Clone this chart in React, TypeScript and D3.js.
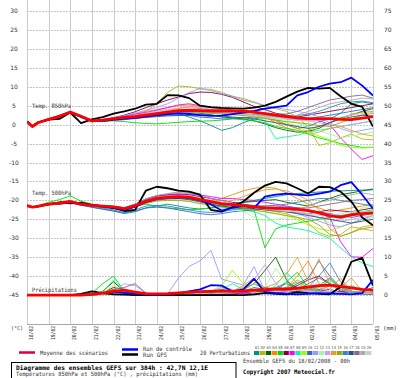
import React from "react";
import * as d3 from "d3";

const HOURS = [0,6,12,24,36,48,60,72,84,96,108,120,132,144,156,168,180,192,204,216,228,240,252,264,276,288,300,312,324,336,348,360,372,384];
const DATES = ["18/02","19/02","20/02","21/02","22/02","23/02","24/02","25/02","26/02","27/02","28/02","29/02","01/03","02/03","03/03","04/03","05/03"];
const LEFT_TICKS = [30,25,20,15,10,5,0,-5,-10,-15,-20,-25,-30,-35,-40,-45];
const RIGHT_TICKS = [75,70,65,60,55,50,45,40,35,30,25,20,15,10,5,0];
const MEMBER_LABELS = ["01","02","03","04","05","06","07","08","09","10","11","12","13","14","15","16","17","18","19","20"];
const MEMBER_COLORS = ["#009090","#b8b800","#006600","#ff8800","#00dd00","#880033","#ff00ff","#00ff99","#99ff00","#3366dd","#9999ff","#99ff99","#cc99ff","#e0a030","#99aa00","#3388bb","#225588","#886688","#aaaaaa","#cccccc"];

const T850_MEAN = [0.8,-0.5,0.5,1.4,2.2,3.3,2.2,1.0,1.2,1.6, 1.9,2.1,2.5,2.9,3.3,3.7,3.8,3.7,3.6,3.6, 3.6,3.6,3.3,2.9,2.5,2.1,1.8,1.6,1.6,1.6, 1.4,1.3,1.7,2.1];
const T850_GFS = [0.8,-0.5,0.5,1.3,1.5,3.2,0.4,1.4,2.0,2.9, 3.5,4.2,5.3,5.5,7.8,7.7,7.0,5.0,4.6,4.4, 4.3,4.2,4.5,5.0,6.0,7.4,8.7,9.7,9.5,9.7, 7.5,5.5,4.7,-0.5];
const T850_CTRL = [0.8,-0.5,0.5,1.4,2.3,3.3,2.0,1.0,1.0,1.3, 1.6,1.8,2.2,2.5,2.8,3.0,2.8,2.5,2.3,2.4, 2.8,3.2,3.6,4.2,4.6,5.0,7.7,8.6,10.0,10.8, 11.2,12.4,10.3,7.7];
const T850_MEMBERS = [
  [0.8,-0.4,0.6,1.3,2.0,3.1,2.0,0.9,1.0,1.3, 1.6,1.8,2.0,2.4,2.6,2.9,2.0,1.0,-0.2,-1.5, -0.8,0.5,1.5,2.0,1.2,0.0,-1.0,-0.5,0.8,1.5, 3.0,5.5,6.0,5.5],
  [0.8,-0.5,0.5,1.5,2.4,3.5,2.3,1.1,1.4,1.8, 2.1,2.4,3.5,5.5,8.5,10.2,10.0,9.5,9.3,8.5, 7.5,6.9,6.0,5.0,4.2,3.5,2.0,-0.5,-5.5,-4.8, -3.5,-2.5,-3.8,-4.0],
  [0.8,-0.5,0.4,1.4,2.1,3.2,2.1,0.8,0.9,1.2, 1.5,1.9,2.2,2.5,2.8,3.0,3.2,3.0,2.6,2.0, 1.8,1.5,1.0,0.2,-0.8,-1.5,-2.0,-1.8,-1.0,0.5, 1.8,2.5,3.5,4.2],
  [0.8,-0.5,0.5,1.4,2.3,3.3,2.2,1.1,1.3,1.8, 2.3,2.8,3.5,4.0,4.5,5.0,5.2,4.8,4.5,4.2, 3.8,3.5,3.0,2.0,0.5,-0.8,-2.0,-1.5,-0.5,0.5, 1.5,2.8,3.2,3.5],
  [0.8,-0.6,0.4,1.3,2.0,3.0,2.1,0.9,0.9,1.0, 0.8,0.5,0.3,0.2,0.4,0.6,0.8,0.9,1.0,1.2, 1.5,1.3,1.0,0.5,-0.5,-1.0,-1.5,-2.5,-3.5,-4.2, -5.0,-5.5,-6.0,-6.0],
  [0.8,-0.5,0.5,1.5,2.3,3.4,2.3,1.0,1.2,1.8, 2.5,3.4,4.5,5.5,6.5,7.3,8.2,8.6,8.5,8.0, 7.2,6.0,4.8,4.0,3.0,2.5,2.0,2.5,3.0,3.5, 4.0,4.5,5.0,5.5],
  [0.8,-0.4,0.6,1.5,2.3,3.3,2.2,1.0,1.2,1.7, 2.2,2.8,3.2,3.8,4.5,5.2,5.5,5.0,4.5,4.2, 3.8,3.6,3.4,3.0,2.6,2.0,1.5,1.2,1.1,0.0, -3.5,-6.5,-9.2,-8.2],
  [0.8,-0.5,0.4,1.3,2.2,3.2,2.3,1.0,1.1,1.5, 1.8,2.0,2.2,2.4,2.6,2.8,3.0,3.2,3.0,2.8, 2.8,2.5,2.2,1.0,-3.7,-3.2,-2.8,-2.0,-1.5,-1.0, -0.5,0.0,0.5,1.0],
  [0.8,-0.5,0.5,1.4,2.3,3.4,2.3,1.1,1.2,1.5, 1.8,2.0,2.4,2.7,3.0,3.3,3.5,3.6,3.6,3.8, 3.5,3.0,2.5,2.2,1.5,0.5,-0.5,-1.9,-3.0,-4.0, -5.5,-6.0,-6.2,-6.0],
  [0.8,-0.5,0.5,1.3,2.1,3.1,2.0,0.8,0.9,1.1, 1.3,1.6,2.0,2.3,2.5,2.5,2.4,2.0,1.8,1.5, 1.6,1.8,2.0,2.2,2.0,1.5,1.2,1.5,2.0,2.5, 3.0,3.5,4.0,4.5],
  [0.8,-0.5,0.5,1.4,2.2,3.3,2.2,1.0,1.3,1.8, 2.4,3.0,3.8,4.6,5.5,7.0,8.5,9.5,9.0,8.2, 7.5,6.5,5.8,5.0,4.5,4.0,3.5,3.0,2.0,0.5, -1.0,-2.0,-1.5,-1.0],
  [0.8,-0.5,0.5,1.4,2.2,3.2,2.2,1.0,1.1,1.5, 1.8,2.1,2.5,2.8,3.1,3.3,3.4,3.5,3.3,3.0, 2.8,2.5,2.2,1.8,1.5,1.2,0.5,-0.5,-1.5,-2.5, -3.5,-3.0,-2.5,-2.0],
  [0.8,-0.5,0.5,1.4,2.3,3.3,2.3,1.1,1.2,1.6, 2.0,2.5,3.0,3.6,4.0,4.4,4.6,4.5,4.4,4.0, 3.6,3.0,2.5,2.2,2.0,1.8,1.6,1.0,0.5,0.0, -0.5,0.0,0.5,1.0],
  [0.8,-0.5,0.5,1.4,2.2,3.3,2.2,1.0,1.2,1.6, 2.0,2.4,2.8,3.2,3.7,4.2,4.8,5.0,4.6,4.0, 3.5,3.0,2.5,1.8,1.0,0.0,-1.0,-2.5,-2.0,-1.0, -0.5,-1.5,-2.5,-3.0],
  [0.8,-0.5,0.5,1.3,2.1,3.2,2.1,0.9,1.0,1.3, 1.6,1.9,2.2,2.5,2.8,3.0,3.1,3.2,3.0,2.8, 2.6,2.4,2.0,1.6,1.2,0.8,0.5,0.2,-0.2,-0.5, 0.5,1.5,2.5,3.0],
  [0.8,-0.5,0.5,1.4,2.2,3.2,2.1,1.0,1.1,1.4, 1.7,2.0,2.3,2.6,2.9,3.2,3.4,3.5,3.4,3.2, 3.0,2.8,2.6,2.5,2.3,2.2,2.4,2.8,3.5,4.5, 5.5,6.0,6.2,5.8],
  [0.8,-0.5,0.5,1.4,2.2,3.2,2.1,0.9,1.0,1.3, 1.5,1.7,1.9,2.1,2.3,2.4,2.5,2.6,2.5,2.3, 2.0,1.8,1.5,1.0,0.5,0.0,-0.5,-1.0,-0.5,0.5, 1.5,2.0,2.5,2.2],
  [0.8,-0.5,0.5,1.4,2.2,3.3,2.2,1.0,1.2,1.6, 2.0,2.3,2.7,3.0,3.4,3.8,4.0,4.2,4.0,3.8, 3.6,3.4,3.2,3.0,2.8,2.8,3.5,4.5,5.5,6.5, 7.0,7.5,7.8,7.0],
  [0.8,-0.5,0.5,1.4,2.2,3.2,2.2,1.0,1.1,1.5, 1.8,2.1,2.4,2.7,3.0,3.2,3.3,3.3,3.2,3.0, 2.9,2.8,2.6,2.4,2.2,2.0,2.5,3.5,4.5,5.5, 6.0,6.5,7.0,6.8],
  [0.8,-0.5,0.5,1.4,2.2,3.2,2.2,1.0,1.2,1.5, 1.8,2.1,2.4,2.7,3.0,3.3,3.5,3.6,3.5,3.3, 3.0,2.7,2.4,2.1,1.8,1.5,1.2,1.0,1.2,1.5, 2.0,2.5,3.0,3.2],
];

const T500_MEAN = [-21.4,-21.8,-21.6,-21.0,-20.7,-20.3,-21.0,-21.3,-21.5,-21.7, -22.2,-21.4,-20.2,-19.5,-19.2,-19.0,-19.2,-19.8,-20.3,-20.9, -21.1,-21.4,-21.7,-22.0,-22.1,-22.2,-22.4,-22.7,-23.3,-24.0, -24.5,-23.8,-23.5,-23.3];
const T500_GFS = [-21.4,-21.8,-21.6,-21.0,-20.5,-20.8,-20.6,-21.2,-21.6,-22.0, -22.8,-22.5,-17.4,-16.4,-16.8,-17.4,-17.7,-18.5,-22.5,-23.0, -21.8,-20.3,-18.0,-16.1,-15.1,-15.5,-16.8,-18.2,-16.4,-16.5, -17.7,-20.3,-24.5,-26.6];
const T500_CTRL = [-21.4,-21.8,-21.6,-21.0,-20.8,-20.5,-21.0,-21.3,-21.6,-21.9, -22.5,-21.6,-20.4,-19.6,-19.3,-19.2,-19.4,-20.0,-21.0,-22.7, -22.0,-21.4,-22.0,-19.0,-18.5,-18.2,-18.5,-18.7,-18.2,-17.7, -16.0,-15.2,-18.5,-22.2];
const T500_MEMBERS = [
  [-21.4,-21.8,-21.5,-21.1,-21.0,-20.6,-21.2,-21.8,-22.3,-22.8, -23.5,-23.0,-22.0,-21.5,-21.0,-21.5,-22.0,-22.3,-22.0,-21.5, -21.0,-20.5,-20.0,-19.5,-19.0,-18.5,-18.2,-18.0,-17.8,-17.6, -17.5,-17.4,-17.3,-17.2],
  [-21.4,-21.8,-21.6,-21.0,-20.6,-20.2,-21.0,-21.4,-21.6,-21.8, -22.0,-21.0,-19.8,-18.8,-18.2,-17.8,-17.9,-18.5,-19.5,-20.5, -21.0,-21.5,-22.0,-22.5,-23.0,-23.5,-24.5,-26.0,-28.5,-29.5, -29.0,-27.0,-27.5,-28.0],
  [-21.4,-21.8,-21.6,-21.1,-20.9,-20.5,-21.1,-21.4,-21.6,-21.9, -22.3,-21.3,-20.0,-19.3,-19.0,-18.8,-19.0,-19.8,-20.5,-21.0, -20.8,-20.5,-20.3,-20.0,-19.8,-20.5,-21.0,-21.5,-20.5,-19.5, -18.5,-18.0,-17.5,-17.0],
  [-21.4,-21.8,-21.6,-21.0,-20.7,-20.3,-21.0,-21.3,-21.5,-21.8, -22.1,-21.2,-19.9,-19.0,-18.6,-18.4,-18.8,-19.5,-20.0,-19.5, -18.5,-17.5,-16.8,-16.5,-16.8,-18.0,-19.5,-21.0,-22.0,-23.0, -22.5,-22.0,-21.5,-21.0],
  [-21.4,-21.8,-21.4,-20.5,-19.8,-18.8,-20.2,-21.0,-21.4,-21.6, -22.0,-21.5,-21.0,-21.5,-22.0,-22.2,-22.5,-22.3,-22.0,-21.8, -22.0,-22.5,-22.5,-32.5,-27.5,-26.5,-26.0,-25.5,-25.0,-24.5, -24.0,-23.5,-23.0,-22.5],
  [-21.4,-21.8,-21.6,-21.0,-20.7,-20.3,-20.9,-21.2,-21.4,-21.6, -22.0,-21.0,-19.6,-18.8,-18.5,-18.3,-18.5,-19.0,-19.5,-20.0, -20.5,-21.0,-21.5,-22.0,-22.5,-23.0,-23.2,-23.5,-23.0,-22.5, -22.8,-23.0,-22.5,-22.0],
  [-21.4,-21.8,-21.6,-21.0,-20.6,-20.1,-20.8,-21.2,-21.5,-21.7, -22.0,-21.2,-20.0,-19.2,-18.7,-18.4,-18.3,-18.6,-19.0,-19.5, -19.5,-19.8,-20.0,-20.5,-21.0,-21.5,-22.0,-22.5,-23.5,-24.5, -30.9,-34.9,-35.0,-32.7],
  [-21.4,-21.8,-21.6,-21.1,-20.8,-20.4,-21.1,-21.5,-21.7,-22.0, -22.4,-21.6,-20.5,-19.9,-19.6,-19.5,-19.7,-20.2,-20.8,-21.5, -22.0,-22.5,-23.0,-24.0,-26.0,-27.0,-27.5,-28.0,-29.0,-30.0, -32.5,-35.0,-36.5,-37.5],
  [-21.4,-21.8,-21.6,-21.0,-20.5,-20.0,-20.9,-21.3,-21.5,-21.8, -22.2,-21.3,-20.3,-19.6,-19.3,-19.1,-19.3,-19.8,-20.3,-21.0, -21.5,-22.0,-22.5,-23.0,-23.5,-24.0,-25.0,-26.5,-27.5,-28.0, -27.0,-26.0,-25.0,-24.5],
  [-21.4,-21.8,-21.7,-21.2,-21.0,-20.7,-21.3,-21.8,-22.3,-22.8, -23.2,-22.8,-22.0,-21.8,-22.0,-22.5,-23.0,-23.5,-23.8,-23.5, -23.0,-22.8,-22.5,-22.3,-22.0,-21.8,-22.0,-22.5,-23.0,-23.5, -24.0,-24.5,-24.0,-23.5],
  [-21.4,-21.8,-21.6,-21.0,-20.6,-20.2,-20.9,-21.2,-21.4,-21.6, -21.9,-21.0,-19.6,-18.7,-18.3,-18.0,-18.2,-18.8,-19.5,-20.0, -20.8,-21.5,-22.0,-22.3,-22.8,-23.0,-23.5,-24.5,-25.5,-26.5, -27.0,-26.0,-25.0,-24.0],
  [-21.4,-21.8,-21.6,-21.0,-20.8,-20.4,-21.0,-21.4,-21.6,-21.9, -22.3,-21.4,-20.4,-19.8,-19.6,-19.8,-20.2,-21.0,-21.5,-22.0, -22.5,-23.0,-24.5,-25.5,-25.0,-24.5,-24.0,-23.5,-24.5,-26.0, -25.0,-23.5,-22.0,-21.5],
  [-21.4,-21.8,-21.6,-21.0,-20.7,-20.3,-21.0,-21.3,-21.5,-21.7, -22.1,-21.2,-20.0,-19.2,-18.9,-18.7,-18.9,-19.4,-20.0,-20.6, -21.0,-21.3,-21.6,-22.0,-22.4,-22.8,-23.2,-23.8,-24.5,-25.0, -25.5,-25.0,-24.5,-24.0],
  [-21.4,-21.8,-21.6,-21.0,-20.7,-20.4,-21.0,-21.4,-21.6,-21.8, -22.2,-21.3,-20.1,-19.3,-19.0,-18.8,-19.0,-19.6,-20.2,-20.6, -20.0,-19.0,-18.0,-17.2,-17.0,-17.5,-18.5,-20.0,-22.5,-27.5, -29.5,-28.5,-27.0,-26.5],
  [-21.4,-21.8,-21.6,-21.1,-20.9,-20.6,-21.1,-21.5,-21.8,-22.2, -22.6,-21.8,-20.8,-20.2,-20.0,-20.0,-20.3,-20.8,-21.2,-21.6, -22.0,-22.3,-22.6,-23.0,-23.5,-24.0,-24.5,-25.0,-26.5,-29.0, -29.5,-28.5,-27.5,-27.0],
  [-21.4,-21.8,-21.6,-21.1,-20.9,-20.6,-21.2,-21.6,-22.0,-22.5, -23.3,-22.5,-21.5,-21.3,-21.5,-22.0,-22.5,-23.0,-23.2,-23.0, -22.5,-22.0,-21.8,-21.5,-21.3,-21.0,-20.5,-20.0,-19.5,-19.5, -20.0,-20.5,-21.0,-21.5],
  [-21.4,-21.8,-21.6,-21.1,-20.8,-20.5,-21.1,-21.5,-21.8,-22.1, -22.6,-21.8,-20.6,-19.9,-19.6,-19.5,-19.8,-20.4,-21.0,-21.5, -21.8,-22.0,-22.2,-22.5,-22.8,-23.0,-23.5,-24.0,-24.5,-25.0, -25.5,-26.0,-25.5,-25.0],
  [-21.4,-21.8,-21.6,-21.0,-20.7,-20.3,-21.0,-21.3,-21.6,-21.8, -22.2,-21.3,-20.2,-19.5,-19.2,-19.0,-19.2,-19.7,-20.3,-20.8, -21.0,-21.2,-21.3,-21.5,-21.5,-21.8,-22.0,-22.0,-21.5,-21.0, -20.5,-20.0,-19.8,-19.5],
  [-21.4,-21.8,-21.6,-21.0,-20.8,-20.4,-21.0,-21.4,-21.6,-21.9, -22.3,-21.5,-20.4,-19.7,-19.4,-19.2,-19.4,-19.9,-20.5,-21.0, -21.3,-21.6,-22.0,-22.3,-22.7,-23.0,-22.5,-21.5,-20.5,-20.0, -19.0,-18.5,-18.0,-18.5],
  [-21.4,-21.8,-21.6,-21.0,-20.7,-20.4,-21.0,-21.3,-21.5,-21.8, -22.2,-21.4,-20.3,-19.6,-19.3,-19.2,-19.4,-19.9,-20.4,-21.0, -21.3,-21.6,-21.9,-22.2,-22.5,-22.8,-23.0,-23.5,-24.0,-24.0, -23.5,-23.0,-23.0,-23.0],
];

const PRECIP_MEAN = [0,0,0,0,0,0,0,0.2,0.5,1.0, 1.3,0.8,0.4,0.3,0.4,0.6,0.8,0.9,1.0,1.1, 1.0,1.1,1.3,1.4,1.6,1.6,1.8,2.1,2.5,2.6, 2.3,1.9,1.5,1.3];
const PRECIP_GFS = [0,0,0,0,0,0,0.3,1.0,0.5,0.2, 0.1,0,0,0,0,0,0,0,0,0, 0,0,0.2,0.5,0.3,0.2,0.8,0.5,0.3,0.2, 2.1,8.8,9.8,2.5];
const PRECIP_CTRL = [0,0,0,0,0,0,0,0.2,0.5,0.8, 0.6,0.3,0.2,0.1,0.2,0.5,1.0,1.5,2.6,2.5, 1.0,1.5,4.3,0.8,0.5,0.3,0.2,0.3,0.5,0.4, 0.3,0.2,0.5,4.0];
const PRECIP_MEMBERS = [
  [0,0,0,0,0,0,0,0,0.5,0.8, 0.3,0,0,0,0.2,0.5,1.0,0.8,0.5,0.3, 0.5,1.0,2.0,1.5,1.0,3.5,2.0,1.0,2.5,4.5, 1.5,0.5,1.0,2.0],
  [0,0,0,0,0,0,0,0,0.5,1.5, 0.5,0,0,0,0,0.2,0.3,0.5,0.3,0.2, 0.5,1.5,0.8,0.5,1.0,2.0,4.0,2.5,1.0,3.0, 1.5,0.5,0.3,0.2],
  [0,0,0,0,0,0,0,0,1.0,3.5, 1.0,0.2,0,0,0,0.2,0.5,0.3,0.2,0.5, 1.0,1.5,3.0,6.5,10.0,4.0,1.0,2.0,1.5,0.5, 1.0,0.5,0.3,0.5],
  [0,0,0,0,0,0,0,0,0.3,0.8, 0.5,0,0,0,0,0,0.2,0.3,0.5,0.8, 1.0,2.5,4.5,1.5,0.5,2.0,5.0,9.0,3.0,1.5, 4.5,1.0,0.5,0.8],
  [0,0,0,0,0,0,0,0.5,3.0,5.0, 1.0,0,0,0,0,0,0,0.2,0.3,0.5, 0.3,0.5,1.0,2.0,1.5,3.5,6.0,2.0,1.0,1.5, 0.5,2.5,1.0,0.5],
  [0,0,0,0,0,0,0,0,0.5,2.0, 1.5,0.5,0,0,0,0,0.3,0.5,0.3,0.2, 0.3,0.5,0.8,1.0,0.5,1.5,2.5,4.0,5.0,3.0, 1.0,0.5,0.3,0.5],
  [0,0,0,0,0,0,0,0,0.3,1.0, 0.3,0,0,0,0,0,0,0,0,0, 0.2,0.5,0.3,0.5,0.8,1.0,0.5,0.8,1.0,1.5, 0.8,0.5,0.3,0.2],
  [0,0,0,0,0,0,0,0,0.8,4.0, 1.0,0.3,0,0,0,0.3,0.5,0.3,0.5,1.5, 3.0,1.5,0.5,1.0,2.5,6.0,3.0,1.5,2.0,4.0, 1.5,0.5,0.3,0.3],
  [0,0,0,0,0,0,0,0,0.5,2.5, 0.8,0,0,0,0,0,0.2,0.5,1.0,2.5, 6.5,3.0,1.0,2.0,1.0,0.5,1.0,2.0,1.0,0.5, 0.3,0.5,1.0,0.5],
  [0,0,0,0,0,0,0,0,0.3,1.0, 0.5,0.2,0,0,0,0,0.2,0.5,0.8,1.0, 0.5,1.0,1.5,1.0,0.8,1.5,3.0,4.5,9.0,5.0, 2.0,1.0,0.5,0.8],
  [0,0,0,0,0,0,0,0,0.3,1.5, 0.8,0.3,0.2,0,0.3,4.5,7.6,9.0,11.8,4.2, 3.4,2.6,7.5,1.0,0.8,0.5,0.8,1.0,0.5,0.3, 0.2,0.3,0.5,0.3],
  [0,0,0,0,0,0,0,0,0.5,1.0, 0.5,0,0,0,0,0,0.3,0.5,0.8,2.0, 1.0,1.5,3.0,2.0,7.0,3.0,1.0,2.0,3.5,1.5, 0.5,0.3,0.2,0.3],
  [0,0,0,0,0,0,0,0,0.3,1.0, 3.0,2.5,0.5,0,0,0,0.3,0.5,1.0,2.0, 1.5,1.0,4.0,8.0,3.0,1.0,0.5,1.0,2.0,1.0, 0.5,0.3,0.2,0.2],
  [0,0,0,0,0,0,0,0,0.2,0.5, 0.3,0,0,0,0,0,0.2,0.3,0.5,0.8, 1.0,2.0,4.0,2.0,3.0,5.5,10.0,3.5,9.5,3.0, 2.0,4.5,1.0,0.5],
  [0,0,0,0,0,0,0,0,0.5,1.5, 0.8,0,0,0,0,0,0.2,0.3,0.5,1.0, 0.8,1.5,3.0,1.5,1.0,2.0,3.5,2.0,1.0,4.5, 2.0,1.0,0.5,0.3],
  [0,0,0,0,0,0,0,0,0.3,0.8, 0.5,0,0,0,0,0,0.2,0.3,0.5,0.8, 0.5,1.0,1.5,1.0,2.0,3.0,1.5,2.0,5.0,8.5, 3.5,1.0,0.5,0.3],
  [0,0,0,0,0,0,0,0,0.2,0.5, 0.3,0,0,0,0,0,0.2,0.3,0.3,0.5, 0.5,0.8,1.0,0.8,0.5,0.8,1.0,1.5,1.0,0.8, 0.5,0.3,0.3,0.2],
  [0,0,0,0,0,0,0,0,0.3,1.5, 2.0,3.0,0.5,0,0,0,0.3,0.5,0.8,1.5, 1.0,0.8,1.0,2.0,1.5,1.0,1.5,3.0,4.5,3.0, 1.5,1.0,0.5,0.3],
  [0,0,0,0,0,0,0,0,0.2,0.8, 0.5,0.2,0,0,0,0.3,1.0,1.5,1.0,0.5, 0.5,1.0,0.8,0.5,1.0,1.5,2.0,1.5,1.0,2.5, 1.5,1.0,0.8,0.5],
  [0,0,0,0,0,0,0,0,0.2,0.5, 0.3,0,0,0,0,0,0.2,0.5,0.3,0.5, 0.8,1.0,0.8,0.5,1.0,0.8,1.5,1.0,0.8,1.0, 0.5,0.3,0.5,0.3],
];

const PRECIP_OFFSET = -45; // mm 0 sits on -45 of the temperature scale
const MONO = "'DejaVu Sans Mono', monospace";
const SANS = "'DejaVu Sans', sans-serif";

export default function App() {
  const x = d3.scaleLinear().domain([0, 384]).range([27, 373]);
  const y = d3.scaleLinear().domain([-50, 30]).range([314, 11]);
  const mk = (vals: number[], off = 0) =>
    d3.line<number>().x((_, i) => x(HOURS[i])).y((v) => y(v + off))(vals) || "";

  const plotTop = 0;
  const plotBottom = 324;
  const dayHours = DATES.map((_, i) => i * 24);

  const groups: { members: number[][]; gfs: number[]; ctrl: number[]; mean: number[]; off: number }[] = [
    { members: T850_MEMBERS, gfs: T850_GFS, ctrl: T850_CTRL, mean: T850_MEAN, off: 0 },
    { members: T500_MEMBERS, gfs: T500_GFS, ctrl: T500_CTRL, mean: T500_MEAN, off: 0 },
    { members: PRECIP_MEMBERS, gfs: PRECIP_GFS, ctrl: PRECIP_CTRL, mean: PRECIP_MEAN, off: PRECIP_OFFSET },
  ];

  const boxW = (372 - 254) / 20;

  return (
    <svg width={400} height={378} style={{ position: "absolute", left: 0, top: 0, background: "#fff" }}>
      <rect x={0} y={0} width={400} height={378} fill="#fff" />
      <defs>
        <clipPath id="plot">
          <rect x={27} y={plotTop} width={346} height={plotBottom - plotTop} />
        </clipPath>
      </defs>
      {/* horizontal grid */}
      {LEFT_TICKS.map((t) => (
        <line key={"h" + t} x1={27} x2={373} y1={Math.round(y(t)) + 0.5} y2={Math.round(y(t)) + 0.5}
          stroke="#c4c4c4" strokeWidth={1} strokeDasharray="2,1" />
      ))}
      {/* vertical grid */}
      {dayHours.map((h) => (
        <line key={"v" + h} x1={Math.round(x(h)) + 0.5} x2={Math.round(x(h)) + 0.5} y1={plotTop} y2={plotBottom}
          stroke="#cccccc" strokeWidth={1} />
      ))}
      <line x1={27} x2={373} y1={plotBottom + 0.5} y2={plotBottom + 0.5} stroke="#a8a8a8" strokeWidth={1} />

      {/* series labels */}
      <text x={32} y={108} fontFamily={MONO} fontSize={6} fill="#333" textLength={39} lengthAdjust="spacingAndGlyphs">Temp. 850hPa</text>
      <text x={32} y={195} fontFamily={MONO} fontSize={6} fill="#333" textLength={39} lengthAdjust="spacingAndGlyphs">Temp. 500hPa</text>
      <text x={32} y={292} fontFamily={MONO} fontSize={6} fill="#333" textLength={45} lengthAdjust="spacingAndGlyphs">Précipitations</text>

      <g clipPath="url(#plot)" fill="none" strokeLinejoin="round">
        {groups.map((g, gi) =>
          g.members.map((m, mi) => (
            <path key={`m${gi}-${mi}`} d={mk(m, g.off)} stroke={MEMBER_COLORS[mi]} strokeWidth={0.9} />
          ))
        )}
        {groups.map((g, gi) => (
          <path key={`g${gi}`} d={mk(g.gfs, g.off)} stroke="#000" strokeWidth={1.8} />
        ))}
        {groups.map((g, gi) => (
          <path key={`c${gi}`} d={mk(g.ctrl, g.off)} stroke="#0000ff" strokeWidth={1.8} />
        ))}
        {groups.map((g, gi) => (
          <path key={`a${gi}`} d={mk(g.mean, g.off)} stroke="#ff0000" strokeWidth={2.8} />
        ))}
      </g>

      {/* left axis labels */}
      {LEFT_TICKS.map((t) => (
        <text key={"l" + t} x={14} y={y(t) + 2} textAnchor="middle" fontFamily={SANS} fontSize={6} fill="#333">{t}</text>
      ))}
      {/* right axis labels */}
      {RIGHT_TICKS.map((t) => (
        <text key={"r" + t} x={384} y={y(t + PRECIP_OFFSET) + 2} fontFamily={SANS} fontSize={6} fill="#333">{t}</text>
      ))}
      {/* date labels */}
      {DATES.map((d, i) => (
        <text key={d} transform={`translate(${Math.round(x(i * 24)) + 6},326) rotate(-90)`} textAnchor="end"
          fontFamily={MONO} fontSize={5.5} fill="#333" textLength={14} lengthAdjust="spacingAndGlyphs">{d}</text>
      ))}
      <text x={11} y={329.5} fontFamily={MONO} fontSize={5.5} fill="#333" textLength={12} lengthAdjust="spacingAndGlyphs">(°C)</text>
      <text x={383} y={329.5} fontFamily={MONO} fontSize={5.5} fill="#333" textLength={14} lengthAdjust="spacingAndGlyphs">(mm)</text>

      {/* legend */}
      <line x1={19} x2={35} y1={352.5} y2={352.5} stroke="#dd0033" strokeWidth={2.5} />
      <text x={40} y={355} fontFamily={MONO} fontSize={6} fill="#333" textLength={68} lengthAdjust="spacingAndGlyphs">Moyenne des scénarios</text>
      <line x1={122} x2={138} y1={349.5} y2={349.5} stroke="#0000ff" strokeWidth={2.5} />
      <line x1={122} x2={138} y1={354.5} y2={354.5} stroke="#000" strokeWidth={2.5} />
      <text x={143} y={351} fontFamily={MONO} fontSize={6} fill="#333" textLength={49} lengthAdjust="spacingAndGlyphs">Run de contrôle</text>
      <text x={143} y={356.5} fontFamily={MONO} fontSize={6} fill="#333" textLength={24} lengthAdjust="spacingAndGlyphs">Run GFS</text>
      <text x={200} y={355} fontFamily={MONO} fontSize={6} fill="#333" textLength={50} lengthAdjust="spacingAndGlyphs">20 Perturbations</text>
      {MEMBER_COLORS.map((c, i) => (
        <g key={"sw" + i}>
          <rect x={254 + i * boxW} y={351} width={boxW - 0.6} height={4} fill={c} />
          <text x={254 + i * boxW + boxW / 2} y={349} textAnchor="middle" fontFamily={MONO} fontSize={4}
            fill="#555" textLength={4.6} lengthAdjust="spacingAndGlyphs">{MEMBER_LABELS[i]}</text>
        </g>
      ))}

      {/* title box */}
      <rect x={11.5} y={362.5} width={224.5} height={20} fill="#fff" stroke="#000" strokeWidth={1} />
      <text x={16} y={370} fontFamily={MONO} fontSize={6.2} fontWeight="bold" fill="#000" textLength={192} lengthAdjust="spacingAndGlyphs">Diagramme des ensembles GEFS sur 384h : 42,7N 12,1E</text>
      <text x={16} y={376} fontFamily={MONO} fontSize={5.8} fill="#333" textLength={182} lengthAdjust="spacingAndGlyphs">Températures 850hPa et 500hPa (°C) , précipitations (mm)</text>
      <text x={243} y={362.5} fontFamily={MONO} fontSize={5.8} fill="#333" textLength={107} lengthAdjust="spacingAndGlyphs">Ensemble GEFS du 18/02/2008 - 00h</text>
      <text x={243} y={373.5} fontFamily={MONO} fontSize={6.2} fontWeight="bold" fill="#000" textLength={92} lengthAdjust="spacingAndGlyphs">Copyright 2007 Meteociel.fr</text>
    </svg>
  );
}
